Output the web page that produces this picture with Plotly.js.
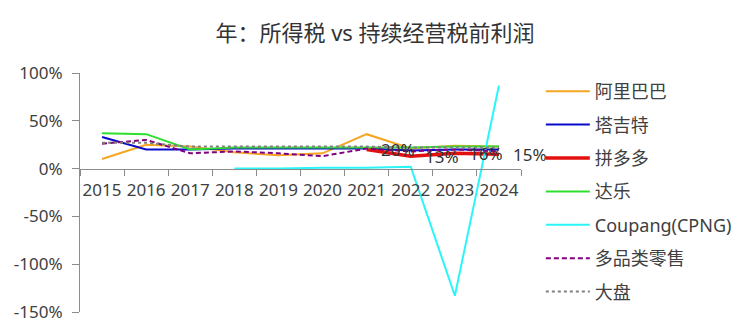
<!DOCTYPE html>
<html>
<head>
<meta charset="utf-8">
<script src="https://cdn.plot.ly/plotly-3.0.1.min.js"></script>
<style>html,body{margin:0;padding:0;background:#fff;}#chart{width:750px;height:333px;}</style>
</head>
<body>
<div id="chart"></div>
<script>
const years = ['2015','2016','2017','2018','2019','2020','2021','2022','2023','2024'];
const alibaba = [10, 25, 23, 17, 14, 16, 36, 21, 24, 23];
const target  = [33, 20, 20, 21, 21, 21, 21, 19, 20, 20];
const pdd     = [null, null, null, null, null, null, 20, 13, 16, 15];
const dollar  = [37, 36, 20, 22, 22, 22, 22, 22, 23, 23];
const coupang = [null, null, null, 0, 0, 1, 1, 2, -133, 87];
const multi   = [26, 30, 16, 18, 16, 13, 21, 18, 20, 18];
const market  = [27, 27, 23, 23, 23, 23, 23, 22, 22, 22];
const pddLabels = ['', '', '', '', '', '', '20%', '13%', '16%', '15%'];
const yTicks = [-150, -100, -50, 0, 50, 100];

const FONT = 'Noto Sans, Noto Sans CJK SC, sans-serif';

function tr(name, y, color, width, dash) {
  return {type:'scatter', mode:'lines', x: years, y: y, name: name,
    legendgroup: name,
    line:{color: color, width: width, dash: dash || 'solid'},
    connectgaps:false, hoverinfo:'skip'};
}

const data = [
  tr('阿里巴巴', alibaba, '#F5A623', 2),
  tr('塔吉特', target, '#0A0ACD', 2),
  tr('拼多多', pdd, '#E31010', 3.5),
  tr('达乐', dollar, '#2EE02E', 2),
  tr('Coupang(CPNG)', coupang, '#2AF5F8', 2),
  tr('多品类零售', multi, '#800080', 2, '5px,3px'),
  tr('大盘', market, '#808080', 2, 'dot')
];

const annotations = [];
years.forEach((yr, i) => {
  if (pdd[i] !== null && pddLabels[i]) {
    annotations.push({x: i, y: pdd[i], xref:'x', yref:'y', text: pddLabels[i],
      showarrow:false, xshift:31, font:{family:FONT, size:17, color:'#333'}});
  }
});

const layout = {
  width:750, height:333,
  margin:{l:80, r:229, t:73, b:21},
  paper_bgcolor:'#fff', plot_bgcolor:'#fff',
  font:{family:FONT, size:17, color:'#404040'},
  title:{text:'年：所得税 vs 持续经营税前利润', x:0.5, xref:'container', xanchor:'center',
    y:0.9, yref:'container', yanchor:'middle',
    font:{family:FONT, size:22, color:'#333'}},
  xaxis:{type:'category', categoryorder:'array', categoryarray:years, range:[-0.5, 9.5], autorange:false,
    anchor:'free', position:0.6, showline:true, linecolor:'#8c8c8c', linewidth:1,
    ticks:'outside', tickson:'boundaries', ticklen:6, tickcolor:'#8c8c8c', tickangle:0,
    ticklabelstandoff:6,
    showgrid:false, zeroline:false, tickfont:{size:17, color:'#404040'}, fixedrange:true},
  yaxis:{range:[-150,100], autorange:false, tickvals:yTicks, ticktext: yTicks.map(v => v + '%'),
    showline:true, linecolor:'#8c8c8c', linewidth:1, ticks:'outside', ticklen:7, tickcolor:'#8c8c8c',
    ticklabelstandoff:6,
    showgrid:false, zeroline:false, tickfont:{size:17, color:'#404040'}, fixedrange:true},
  showlegend:true,
  legend:{x:1.045, xanchor:'left', y:1.0, yanchor:'top', traceorder:'grouped', tracegroupgap:7,
    font:{family:FONT, size:18, color:'#404040'}, bgcolor:'rgba(0,0,0,0)', itemwidth:44},
  annotations: annotations
};

Plotly.newPlot('chart', data, layout, {displayModeBar:false, staticPlot:true});
</script>
</body>
</html>
